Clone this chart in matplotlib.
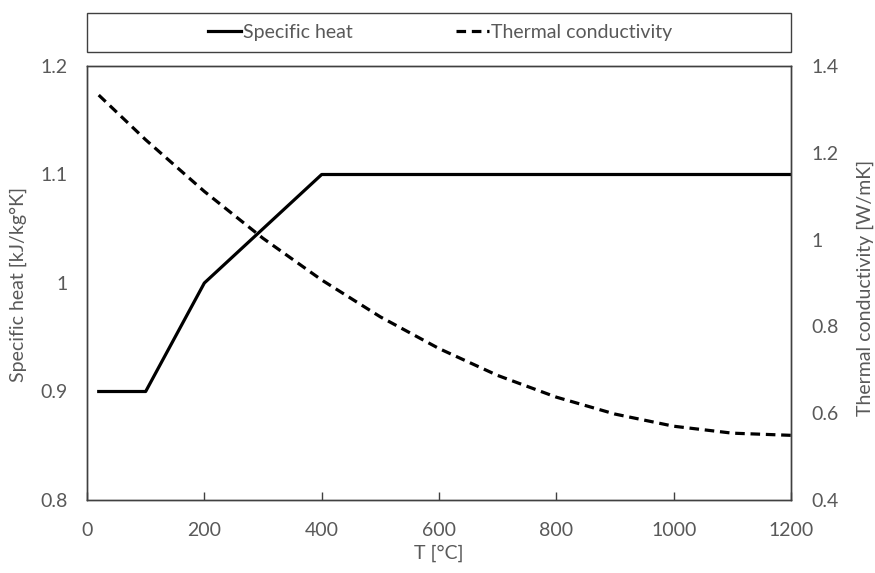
import numpy as np
import matplotlib.pyplot as plt
from matplotlib.patches import Rectangle

plt.rcParams['font.family'] = ['Lato', 'DejaVu Sans']

# temperature [C]
temp_cp = [20, 100, 200, 400, 1200]
cp = [0.9, 0.9, 1.0, 1.1, 1.1]

temp_k = [20, 100, 200, 300, 400, 500, 600, 700, 800, 900, 1000, 1100, 1200]
k = [1.333, 1.230, 1.111, 1.003, 0.907, 0.822, 0.749, 0.687, 0.637, 0.598, 0.570, 0.554, 0.549]

gray = '#595959'
edge = '#404040'
fs = 14

fig = plt.figure(figsize=(8.75, 5.73), dpi=100)
ax = fig.add_axes([87/875, 1-500/573, (791-87)/875, (500-66)/573])
ax2 = ax.twinx()

l1, = ax.plot(temp_cp, cp, color='black', lw=2.3, label='Specific heat')
l2, = ax2.plot(temp_k, k, color='black', lw=2.3, ls=(0, (3, 1.8)), label='Thermal conductivity')

ax.set_xlim(0, 1200)
ax.set_ylim(0.8, 1.2)
ax2.set_ylim(0.4, 1.4)
ax.set_xticks(np.arange(0, 1201, 200))
ax.set_yticks([0.8, 0.9, 1.0, 1.1, 1.2])
ax.set_yticklabels(['0.8', '0.9', '1', '1.1', '1.2'])
ax2.set_yticks([0.4, 0.6, 0.8, 1.0, 1.2, 1.4])
ax2.set_yticklabels(['0.4', '0.6', '0.8', '1', '1.2', '1.4'])

for a in (ax, ax2):
    for s in a.spines.values():
        s.set_color(edge)
        s.set_linewidth(1.0)
    a.tick_params(labelsize=fs, colors=gray, direction='in', length=6, width=1)
    a.tick_params(axis='both', color=edge)
ax.tick_params(axis='y', length=0, pad=14)
ax2.tick_params(axis='y', length=0, pad=15)
ax.tick_params(axis='x', pad=16)

ax.set_xlabel('T [°C]', fontsize=fs, color=gray, labelpad=4)
fig.text(18/875, 1-285/573, 'Specific heat [kJ/kg°K]', rotation=90, fontsize=fs,
         color=gray, ha='center', va='center')
fig.text(865/875, 1-288/573, 'Thermal conductivity [W/mK]', rotation=90, fontsize=fs,
         color=gray, ha='center', va='center')

# legend box across the top
fig.patches.append(Rectangle((87/875, 1-52/573), (791-87)/875, 39/573,
                             transform=fig.transFigure, fill=False,
                             edgecolor=edge, linewidth=1.0))
leg = fig.legend(handles=[l1, l2], loc='center',
                 bbox_to_anchor=(440/875, 1-32.5/573),
                 ncol=2, frameon=False, fontsize=fs, labelcolor=gray,
                 handlelength=1.7, handletextpad=0.1, columnspacing=5.3)

fig.savefig('out.png', dpi=100)
